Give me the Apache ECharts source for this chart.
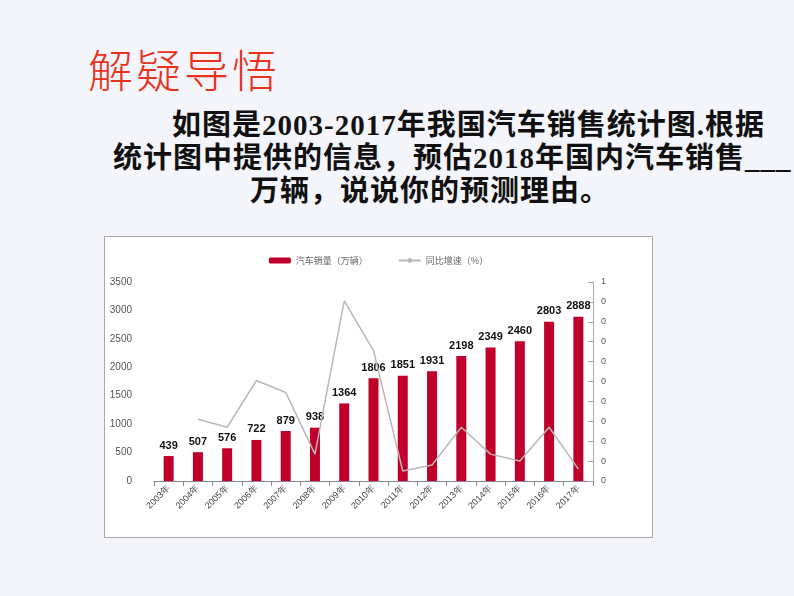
<!DOCTYPE html>
<html><head><meta charset="utf-8">
<script src="https://cdn.jsdelivr.net/npm/echarts@6/dist/echarts.min.js"></script>
<style>
body{margin:0;width:794px;height:596px;background:#f4f4fb;position:relative;overflow:hidden;font-family:"Liberation Serif","Noto Sans CJK SC",serif;}
.t{position:absolute;white-space:nowrap;font-weight:bold;font-size:29px;line-height:34px;color:#111;letter-spacing:1px;}
#title{position:absolute;left:88px;top:36px;font-size:45px;color:#e8321e;font-family:"Noto Sans CJK SC";font-weight:300;letter-spacing:3px;}
#box{position:absolute;left:104px;top:236px;width:547px;height:300px;background:#fff;border:1px solid #aaa;}
</style></head>
<body>
<div id="title">解疑导悟</div>
<div class="t" style="left:172px;top:108px;">如图是2003-2017年我国汽车销售统计图.根据</div>
<div class="t" style="left:113px;top:141px;">统计图中提供的信息，预估2018年国内汽车销售___</div>
<div class="t" style="left:250px;top:174px;">万辆，说说你的预测理由。</div>
<div id="box"></div>
<script>
var years = ['2003年','2004年','2005年','2006年','2007年','2008年','2009年','2010年','2011年','2012年','2013年','2014年','2015年','2016年','2017年'];
var sales = [439,507,576,722,879,938,1364,1806,1851,1931,2198,2349,2460,2803,2888];
var growth = [null,0.31,0.27,0.505,0.445,0.135,0.905,0.655,0.05,0.08,0.27,0.135,0.10,0.27,0.06];

var myChart = echarts.init(document.getElementById('box'));
var option = {
  animation: false,
  legend: {
    top: 14,
    itemWidth: 22, itemHeight: 6, itemGap: 30,
    textStyle: {fontSize: 9, color: '#666', fontFamily: 'Noto Sans CJK SC'},
    data: ['汽车销量（万辆）', '同比增速（%）']
  },
  grid: {left: 49, right: 59, top: 45, bottom: 56},
  xAxis: {
    type: 'category', data: years,
    axisLine: {lineStyle: {color: '#888'}},
    axisTick: {show: true, lineStyle: {color: '#888'}},
    axisLabel: {rotate: 45, fontSize: 9, color: '#444', interval: 0, margin: 6}
  },
  yAxis: [{
    type: 'value', min: 0, max: 3500, interval: 500,
    splitLine: {show: false},
    axisLine: {show: false}, axisTick: {show: false},
    axisLabel: {fontSize: 10, color: '#555', margin: 22, formatter: function(v){ return String(v); }}
  }, {
    type: 'value', min: 0, max: 1, interval: 0.1,
    splitLine: {show: false},
    axisLine: {show: true, lineStyle: {color: '#aaa'}},
    axisTick: {show: true, inside: true, lineStyle: {color: '#aaa'}},
    axisLabel: {fontSize: 9, color: '#555', formatter: function(v){ return v === 1 ? '1' : '0'; }}
  }],
  series: [{
    name: '汽车销量（万辆）', type: 'bar', data: sales, barWidth: 10,
    itemStyle: {color: '#c0002a'},
    label: {show: true, position: 'top', color: '#111', fontWeight: 'bold', fontSize: 11, fontFamily: 'Liberation Sans'}
  }, {
    name: '同比增速（%）', type: 'line', yAxisIndex: 1, data: growth,
    symbol: 'none', lineStyle: {color: '#b8b8b8', width: 1.5}, itemStyle: {color: '#b8b8b8'}
  }]
};
myChart.setOption(option);
</script>
</body></html>
